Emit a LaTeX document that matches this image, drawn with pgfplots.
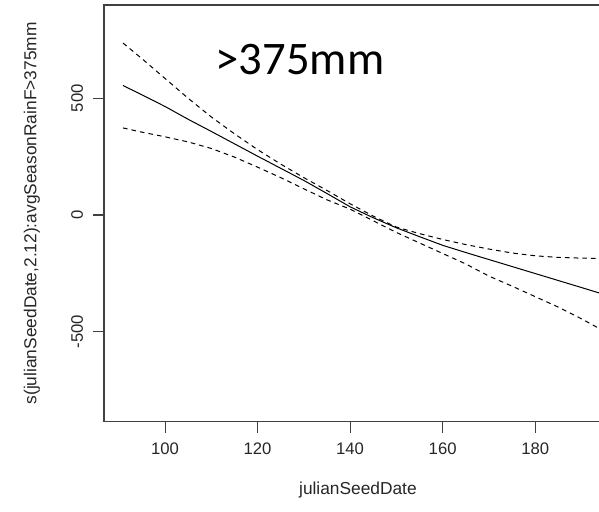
\documentclass[border=0pt]{standalone}
\usepackage{fontspec}
\setmainfont{Liberation Sans}
\newfontfamily\titlefont{Carlito}
\usepackage{pgfplots}
\pgfplotsset{compat=1.18}
\begin{document}
\begin{tikzpicture}
\useasboundingbox (-78pt,-67pt) rectangle (371.25pt,316.25pt);
\begin{axis}[
  at={(0,0)}, anchor=south west,
  scale only axis,
  width=371.25pt, height=312.5pt,
  xmin=86.8, xmax=193.8,
  ymin=-886, ymax=900,
  xtick={100,120,140,160,180},
  ytick={-500,0,500},
  tick align=outside,
  major tick length=8.25pt,
  tick style={black!75, line width=0.8pt},
  axis line style={draw=none},
  xtick pos=bottom, ytick pos=left,
  /pgf/number format/assume math mode=true,
  ticklabel style={font=\fontsize{12.5}{14}\selectfont, text=black!85},
  yticklabel style={rotate=90, anchor=south},
  xticklabel style={anchor=north},
  xticklabel shift=4pt,
  yticklabel shift=4pt,
  xlabel={julianSeedDate},
  ylabel={s(julianSeedDate,2.12):avgSeasonRainF>375mm},
  label style={font=\fontsize{13}{15}\selectfont, text=black!85},
  xlabel style={at={(axis description cs:0.513,0)}, anchor=center, yshift=-51pt},
  ylabel style={at={(axis description cs:-0.1455,0.5)}, anchor=center, rotate=0},
  clip=false,
]
\draw[black!75, line width=1pt] (rel axis cs:1.02,1) -- (rel axis cs:0,1) -- (rel axis cs:0,0) -- (rel axis cs:1.02,0);
% fitted smooth
\addplot[black, line width=0.75pt] coordinates {
 (90.9,555) (95,515) (100,465) (105,410) (110,358) (115,305) (120,252)
 (125,200) (130,148) (135,92) (140,35) (145,-12) (150,-55) (155,-93)
 (160,-130) (165,-161) (170,-191) (175,-221) (180,-251) (185,-281)
 (190,-311) (193.8,-334)
};
% upper band
\addplot[black, line width=0.75pt, dash pattern=on 3.5pt off 3pt] coordinates {
 (90.9,737) (95,670) (100,585) (105,500) (110,420) (115,348) (120,280)
 (125,218) (130,160) (135,105) (140,48) (145,-5) (150,-52) (155,-80)
 (160,-105) (165,-127) (170,-146) (175,-163) (180,-175) (185,-182)
 (190,-185) (193.8,-186)
};
% lower band
\addplot[black, line width=0.75pt, dash pattern=on 3.5pt off 3pt] coordinates {
 (90.9,373) (95,355) (100,335) (105,313) (110,285) (115,248) (120,205)
 (125,160) (130,112) (135,65) (140,25) (145,-25) (150,-75) (155,-120)
 (160,-165) (165,-210) (170,-262) (175,-305) (180,-350) (185,-395)
 (190,-445) (193.8,-486)
};
\node[font=\titlefont\fontsize{35}{40}\selectfont, anchor=center]
  at (axis description cs:0.396,0.870) {>375mm};
\end{axis}
\end{tikzpicture}
\end{document}
